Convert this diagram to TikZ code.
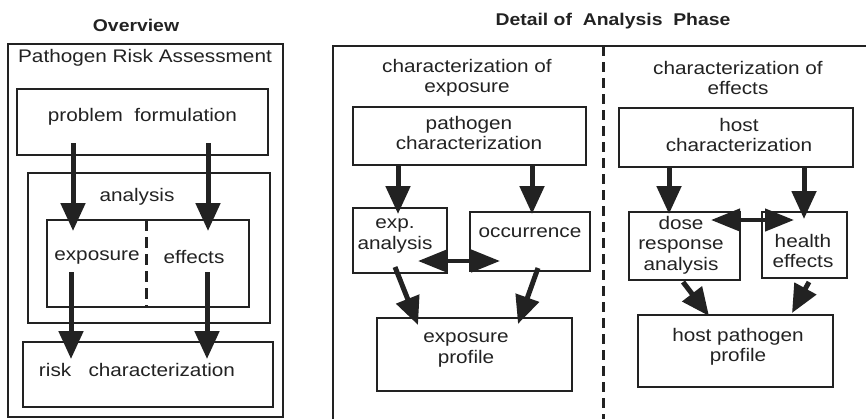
\documentclass[tikz,border=0pt]{standalone}
\usepackage{fontspec}
\setmainfont{Liberation Sans}[FakeStretch=1.14]
\usetikzlibrary{arrows.meta}
\definecolor{ink}{HTML}{222222}
\begin{document}
\begin{tikzpicture}[x=1pt,y=-1pt,
  box/.style={draw=ink, line width=2.4pt, inner sep=0pt},
  txt/.style={font=\fontsize{18.2}{20.5}\selectfont, align=center, inner sep=0pt, text=ink},
  ttl/.style={font=\bfseries\fontsize{17}{19}\selectfont, inner sep=0pt, text=ink},
  arr/.style={draw=ink, line width=5pt, -{Triangle[length=28pt,width=24pt]}},
  darr/.style={draw=ink, line width=4.4pt, {Triangle[length=29pt,width=22pt]}-{Triangle[length=29pt,width=22pt]}},
  sep/.style={draw=ink, line width=3pt, dash pattern=on 10pt off 6pt},
]
\useasboundingbox (0,0) rectangle (866,418);
% ---------- titles
\node[ttl] (tov) at (136,25) {Overview};
\node[ttl] (tdet) at (613,21) {Detail of \ Analysis \ Phase};
% ---------- overview boxes
\node[box, minimum width=275pt, minimum height=373pt] (outer) at (145.5,230.5) {};
\node[box, minimum width=251pt, minimum height=66pt] (pf) at (142.5,122) {};
\node[box, minimum width=242pt, minimum height=150pt] (ana) at (149,248) {};
\node[box, minimum width=202pt, minimum height=87pt] (inner) at (148,263.5) {};
\node[box, minimum width=250pt, minimum height=65pt] (rc) at (148,374.5) {};
\coordinate (d1) at (146,220);
\coordinate (d2) at (146,307);
\draw[sep, dash pattern=on 11pt off 6pt] (d1) -- (d2);
\node[txt] (tpra) at (145,58) {Pathogen Risk Assessment};
\node[txt] (tpf) at (142.5,117) {problem\ \ formulation};
\node[txt] (tan) at (137,197) {analysis};
\node[txt] (texp) at (97,257) {exposure};
\node[txt] (teff) at (194,257) {effects};
\node[txt] (trc) at (137,370) {risk\ \ \ characterization};
% ---------- detail frame
\coordinate (f1) at (333,422);
\coordinate (f2) at (333,46);
\coordinate (f3) at (870,46);
\draw[draw=ink, line width=2.4pt] (f1) -- (f2) -- (f3);
\coordinate (s1) at (603,46);
\coordinate (s2) at (603,422);
\draw[sep] (s1) -- (s2);
% exposure side
\node[txt] (tce) at (467,78) {characterization of\\exposure};
\node[box, minimum width=233pt, minimum height=58pt] (pc) at (469.5,136) {};
\node[box, minimum width=94pt, minimum height=65pt] (ea) at (400,240.5) {};
\node[box, minimum width=120pt, minimum height=59pt] (oc) at (530,241.5) {};
\node[box, minimum width=195pt, minimum height=73pt] (ep) at (474.5,354.5) {};
\node[txt] (tpc) at (469,133) {pathogen\\characterization};
\node[txt] (tea) at (395,236) {exp.\\analysis};
\node[txt] (toc) at (530,233) {occurrence};
\node[txt] (tep) at (466,350) {exposure\\profile};
% effects side
\node[txt] (tcf) at (738,78) {characterization of\\effects};
\node[box, minimum width=234pt, minimum height=59pt] (hc) at (736,137.5) {};
\node[box, minimum width=111pt, minimum height=68pt] (dr) at (684.5,246) {};
\node[box, minimum width=85pt, minimum height=66pt] (he) at (804.5,245) {};
\node[box, minimum width=195pt, minimum height=72pt] (hp) at (735.5,351) {};
\node[txt] (thc) at (739,135) {host\\characterization};
\node[txt] (tdr) at (681,245) {dose\\response\\analysis};
\node[txt] (the) at (803,251) {health\\effects};
\node[txt] (thp) at (738,347) {host pathogen\\profile};
% ---------- arrow end points
\coordinate (a1s) at (73,143);  \coordinate (a1e) at (73,231);
\coordinate (a2s) at (208,143); \coordinate (a2e) at (208,231);
\coordinate (a3s) at (71,272);  \coordinate (a3e) at (71,359);
\coordinate (a4s) at (207,272); \coordinate (a4e) at (207,359);
\coordinate (b1s) at (398,165); \coordinate (b1e) at (398,214);
\coordinate (b2s) at (532,165); \coordinate (b2e) at (532,214);
\coordinate (b3l) at (418,261); \coordinate (b3r) at (500,261);
\coordinate (b4s) at (395,267); \coordinate (b4e) at (418,325);
\coordinate (b5s) at (538,268); \coordinate (b5e) at (518,324);
\coordinate (c1s) at (669,167); \coordinate (c1e) at (669,214);
\coordinate (c2s) at (804,167); \coordinate (c2e) at (804,219);
\coordinate (c3l) at (711,220); \coordinate (c3r) at (794,220);
\coordinate (c4s) at (683,282); \coordinate (c4e) at (709,316);
\coordinate (c5s) at (809,282); \coordinate (c5e) at (792,313);
% ---------- arrows
\draw[arr] (a1s) -- (a1e);
\draw[arr] (a2s) -- (a2e);
\draw[arr] (a3s) -- (a3e);
\draw[arr] (a4s) -- (a4e);
\draw[arr] (b1s) -- (b1e);
\draw[arr] (b2s) -- (b2e);
\draw[darr] (b3l) -- (b3r);
\draw[arr] (b4s) -- (b4e);
\draw[arr] (b5s) -- (b5e);
\draw[arr] (c1s) -- (c1e);
\draw[arr] (c2s) -- (c2e);
\draw[darr] (c3l) -- (c3r);
\draw[arr] (c4s) -- (c4e);
\draw[arr] (c5s) -- (c5e);
\end{tikzpicture}
\end{document}
